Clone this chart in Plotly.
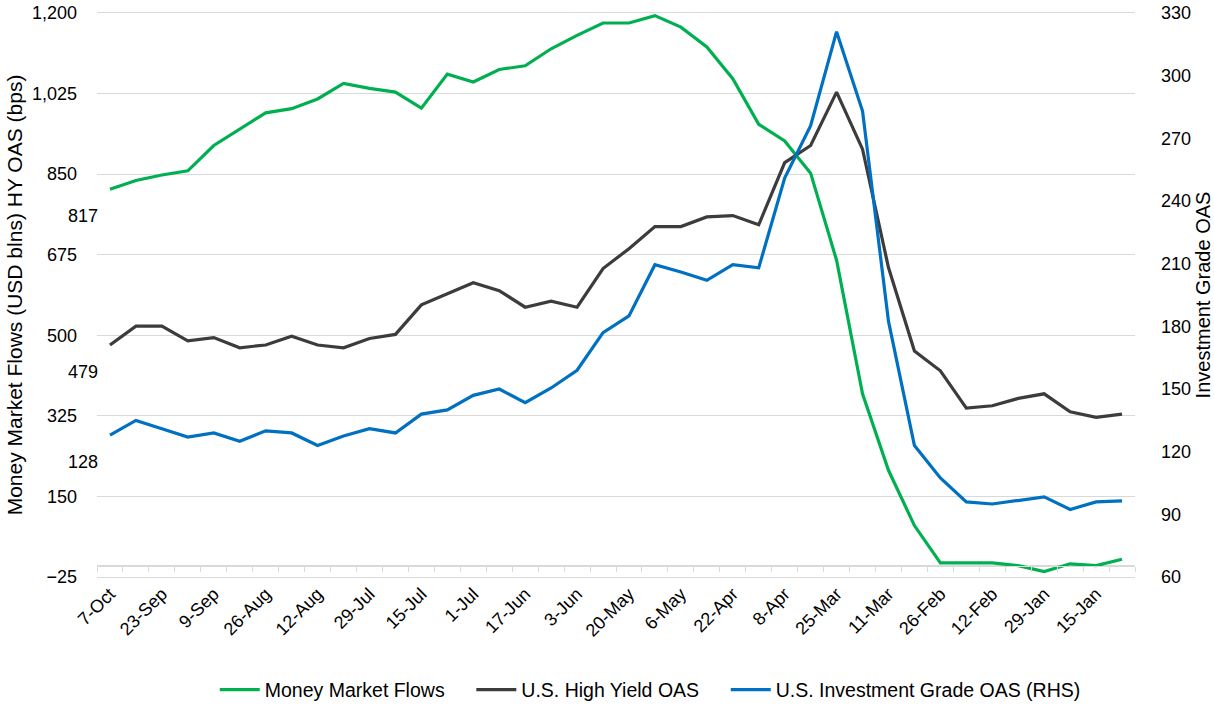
import plotly.graph_objs as go

# weekly dates, newest first
dates = ['7-Oct', '30-Sep', '23-Sep', '16-Sep', '9-Sep', '2-Sep', '26-Aug', '19-Aug',
         '12-Aug', '5-Aug', '29-Jul', '22-Jul', '15-Jul', '8-Jul', '1-Jul', '24-Jun',
         '17-Jun', '10-Jun', '3-Jun', '27-May', '20-May', '13-May', '6-May', '29-Apr',
         '22-Apr', '15-Apr', '8-Apr', '1-Apr', '25-Mar', '18-Mar', '11-Mar', '4-Mar',
         '26-Feb', '19-Feb', '12-Feb', '5-Feb', '29-Jan', '22-Jan', '15-Jan', '8-Jan']

money_market = [817, 836, 848, 857, 912, 948, 983, 992, 1013, 1047,
                1036, 1028, 993, 1067, 1050, 1077, 1085, 1122, 1151, 1178,
                1178, 1194, 1169, 1126, 1057, 958, 922, 852, 663, 373,
                207, 87, 6, 6, 6, 0, -13, 4, 0, 14]

hy_oas = [479, 520, 520, 488, 495, 473, 479, 498, 479, 473,
          493, 502, 566, 590, 614, 597, 561, 574, 561, 645,
          688, 736, 736, 757, 760, 740, 875, 912, 1028, 904,
          647, 466, 423, 342, 347, 363, 373, 334, 322, 329]

ig_oas = [128, 135, 131, 127, 129, 125, 130, 129, 123, 127.5,
          131, 129, 138, 140, 147, 150, 143.5, 150.5, 159, 177,
          185, 209.5, 206, 202, 209.5, 208, 251, 276, 321, 283,
          182.5, 123, 107.5, 96, 95, 96.6, 98.4, 92.4, 96, 96.5]

left_ticks = [-25, 150, 325, 500, 675, 850, 1025, 1200]
right_ticks = [60, 90, 120, 150, 180, 210, 240, 270, 300, 330]

font = 'Liberation Sans, Arial, sans-serif'
grid = '#d9d9d9'
pad = '\u00a0' * 4  # extra room between legend entries

# ranges padded a little: plotly skips gridlines sitting within 1px of the plot edge
left_range = [-29, 1204]
k = 270 / 1225
right_range = [60 + (left_range[0] + 25) * k, 60 + (left_range[1] + 25) * k]

fig = go.Figure()
fig.add_trace(go.Scatter(x=dates, y=money_market, mode='lines', name='Money Market Flows' + pad,
                         line=dict(color='#00b050', width=3.2)))
fig.add_trace(go.Scatter(x=dates, y=hy_oas, mode='lines', name='U.S. High Yield OAS' + pad,
                         line=dict(color='#3c3c3c', width=3.2)))
fig.add_trace(go.Scatter(x=dates, y=ig_oas, mode='lines', name='U.S. Investment Grade OAS (RHS)',
                         line=dict(color='#0070c0', width=3.2), xaxis='x2', yaxis='y2'))

# first-point data labels
for val, yref in [(money_market[0], 'y'), (hy_oas[0], 'y'), (ig_oas[0], 'y2')]:
    fig.add_annotation(x=dates[0], y=val, xref='x', yref=yref, text=str(round(val)),
                       showarrow=False, xshift=-27, yshift=-27,
                       font=dict(family=font, size=18, color='#000000'))

fig.update_layout(
    width=1214, height=706,
    margin=dict(l=97, r=79, t=11, b=127, autoexpand=False),
    paper_bgcolor='white', plot_bgcolor='white',
    font=dict(family=font, size=18, color='#000000'),
    xaxis=dict(type='category', categoryorder='array', categoryarray=dates,
               range=[-0.5, 39.5], tickmode='array', tickvals=dates[::2],
               tickangle=-45, showgrid=False, showline=False, ticks='',
               automargin=False, tickfont=dict(size=18)),
    # category axis drawn through zero on the left scale, ticks between weeks
    xaxis2=dict(type='category', categoryorder='array', categoryarray=dates,
                overlaying='x', anchor='free',
                position=(0 - left_range[0]) / (left_range[1] - left_range[0]),
                range=[-0.5, 39.5], tickson='boundaries',
                showticklabels=False, showgrid=False, zeroline=False,
                showline=True, linecolor=grid, linewidth=1,
                ticks='outside', ticklen=5, tickcolor=grid, tickwidth=1,
                automargin=False),
    yaxis=dict(range=left_range, tickmode='array', tickvals=left_ticks,
               tickformat=',', showgrid=True, gridcolor=grid, gridwidth=1,
               zeroline=True, zerolinecolor=grid, zerolinewidth=1,
               showline=False, ticklabelstandoff=19, automargin=False,
               title=dict(text='Money Market Flows (USD blns) HY OAS (bps)',
                          standoff=3, font=dict(size=21))),
    yaxis2=dict(range=right_range, tickmode='array', tickvals=right_ticks,
                overlaying='y', side='right', anchor='x', showgrid=False, zeroline=False,
                showline=False, ticklabelstandoff=25, automargin=False,
                title=dict(text='Investment Grade OAS', standoff=14,
                           font=dict(size=20))),
    legend=dict(orientation='h', x=0.533, xanchor='center', xref='paper',
                y=16 / 706, yanchor='middle', yref='container',
                font=dict(size=19.5), itemwidth=40, traceorder='normal'),
)

# drop the default page margin so the figure fills the window exactly
fig.write_html('out.html', config={'displayModeBar': False},
               post_script="document.body.style.margin='0';")
